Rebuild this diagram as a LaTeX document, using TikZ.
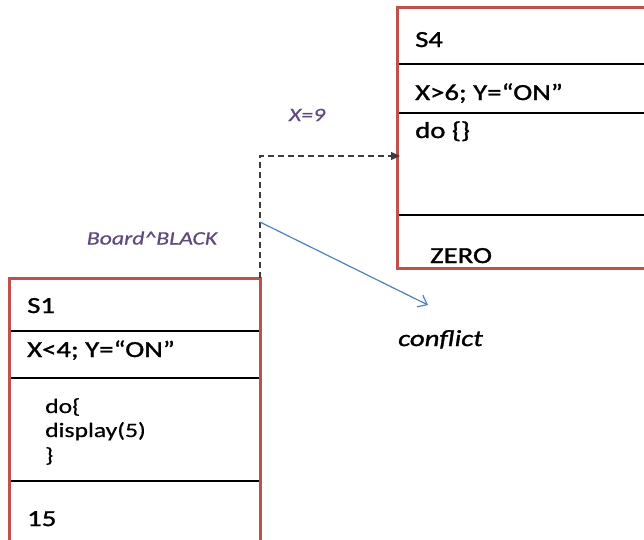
\documentclass[tikz,border=0pt]{standalone}
\usepackage{fontspec}
\setmainfont[FakeStretch=1.25]{Carlito}
\newfontfamily\heavyfont[FakeStretch=1.25,FakeBold=1.3]{Carlito}
\newfontfamily\midfont[FakeStretch=1.25,FakeBold=0.6]{Carlito}
\usetikzlibrary{arrows.meta}
\definecolor{boxred}{RGB}{192,80,77}
\definecolor{labelpurple}{RGB}{96,74,123}
\definecolor{flowblue}{RGB}{79,129,189}
\definecolor{dashgray}{RGB}{60,60,60}

\begin{document}
\begin{tikzpicture}[x=1pt,y=-1pt,
  statebox/.style={draw=none, inner sep=0pt, outer sep=0pt, anchor=north west},
  border/.style={draw=boxred, line width=3pt},
  divider/.style={line width=2pt, black, shorten <=1.5pt, shorten >=1.5pt},
  txt/.style={anchor=base west, inner sep=0pt, font=\heavyfont\fontsize{23}{27}\selectfont},
  code/.style={anchor=base west, inner sep=0pt, font=\midfont\fontsize{20.5}{24}\selectfont},
  lab/.style={inner sep=0pt, text=labelpurple, font=\midfont\fontsize{19}{22}\selectfont\itshape},
  guard/.style={dashgray, line width=1.3pt, dash pattern=on 6pt off 4pt,
    -{Triangle[length=9pt,width=8pt]}, shorten >=-3pt},
  clash/.style={flowblue, line width=1.2pt, -{Straight Barb[length=8pt,width=13pt]}}]
\useasboundingbox (0,0) rectangle (644,539);

% state S1 (bottom left)
\node[statebox, minimum width=251pt, minimum height=270pt] (s1) at (9,278) {};
\draw[divider] ([yshift=-53pt]s1.north west) -- ([yshift=-53pt]s1.north east);
\draw[divider] ([yshift=-100pt]s1.north west) -- ([yshift=-100pt]s1.north east);
\draw[divider] ([yshift=-203pt]s1.north west) -- ([yshift=-203pt]s1.north east);
\draw[border] (s1.north west) rectangle (s1.south east);
\node[txt] (s1name) at (27,313) {S1};
\node[txt] (s1guard) at (27,357) {X<4; Y=“ON”};
\node[code] (s1do) at (45,413) {do\{};
\node[code] (s1disp) at (45,437) {display(5)};
\node[code] (s1end) at (45,462) {\}};
\node[txt] (s1val) at (27,526) {15};

% state S4 (top right)
\node[statebox, minimum width=260pt, minimum height=261pt] (s4) at (397,7) {};
\draw[divider] ([yshift=-57pt]s4.north west) -- ([yshift=-57pt]s4.north east);
\draw[divider] ([yshift=-106pt]s4.north west) -- ([yshift=-106pt]s4.north east);
\draw[divider] ([yshift=-208pt]s4.north west) -- ([yshift=-208pt]s4.north east);
\draw[border] (s4.north west) rectangle (s4.south east);
\node[txt] (s4name) at (415,47) {S4};
\node[txt] (s4guard) at (415,100) {X>6; Y=“ON”};
\node[txt] (s4do) at (415,138) {do \{\}};
\node[txt] (s4val) at (430,263) {ZERO};

% transitions
\coordinate (s4in) at (397,156);
\coordinate (fork) at (260,222);
\coordinate (clashend) at (428,305);
\draw[guard] (s1.north east) |- (s4in);
\draw[clash] (fork) -- (clashend);

% labels
\node[lab] (lx9) at (307,115) {X=9};
\node[lab] (lboard) at (152,238) {Board\textasciicircum BLACK};
\node[txt, font=\heavyfont\fontsize{23}{27}\selectfont\itshape] (lconf) at (398,346) {conflict};
\end{tikzpicture}
\end{document}
